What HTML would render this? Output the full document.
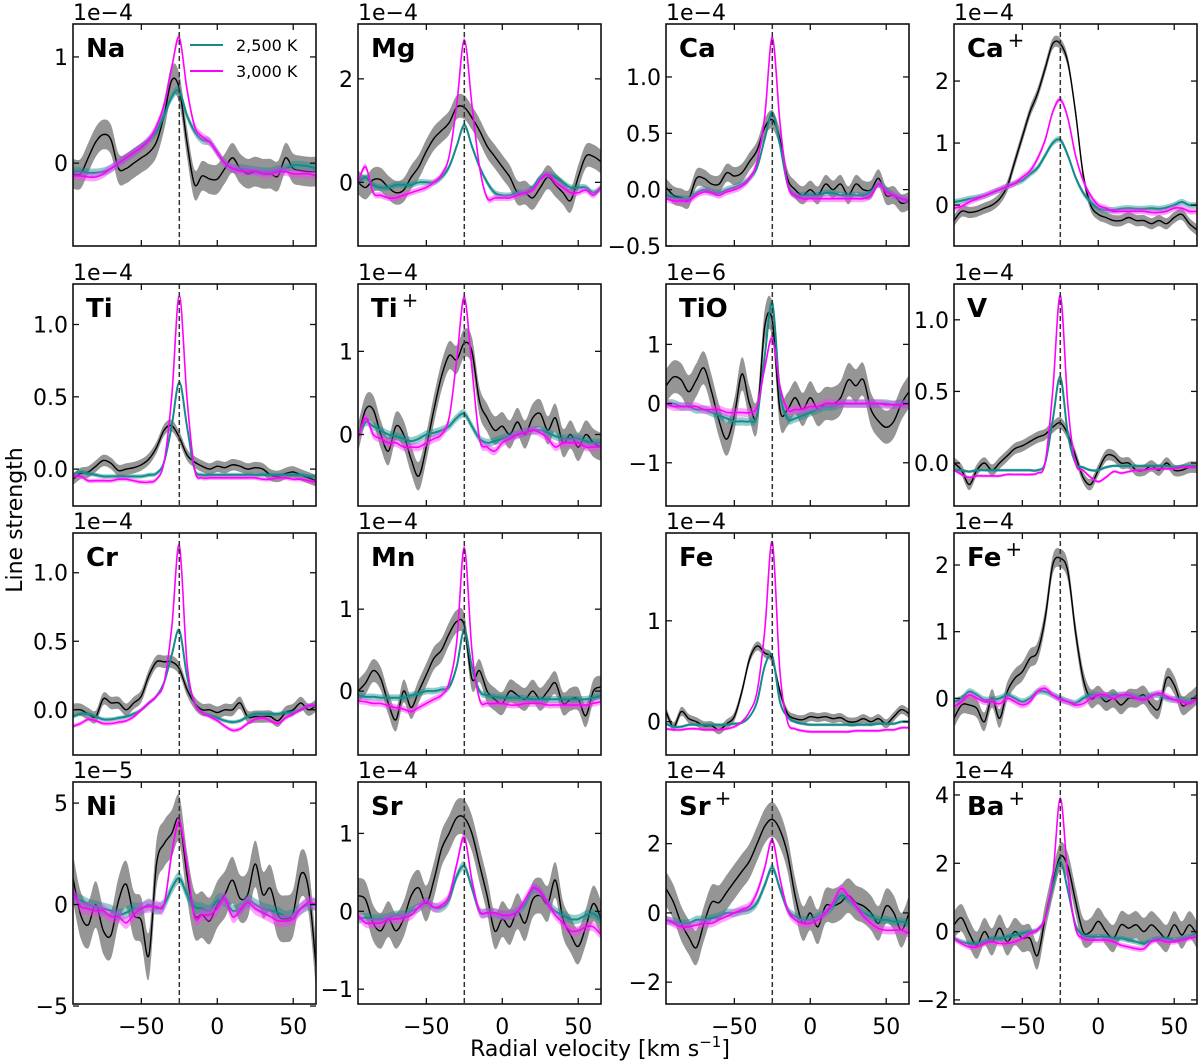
<!DOCTYPE html>
<html><head><meta charset="utf-8"><style>
html,body{margin:0;padding:0;background:#fff;}
svg{display:block;font-family:"DejaVu Sans","Liberation Sans",sans-serif;}
</style></head><body>
<svg id="fig" width="1200" height="1064" viewBox="0 0 1200 1064" xmlns="http://www.w3.org/2000/svg">
<text x="600" y="1056" font-size="22" text-anchor="middle">Radial velocity [km s<tspan font-size="15" dy="-9">−1</tspan><tspan dy="9">]</tspan></text>
<text x="22" y="520" font-size="22" text-anchor="middle" transform="rotate(-90 22 520)">Line strength</text>
</svg>
<script>
const velocities=[-95,-90,-85,-80,-75,-70,-65,-60,-55,-50,-45,-40,-35,-30,-25,-20,-15,-10,-5,0,5,10,15,20,25,30,35,40,45,50,55,60,65];
const xTicks=[-50,0,50];
const restVelocity=-25;
const obsNa=[-0.1,-0.1,0.05,0.2,0.27,0.22,-0.05,-0.05,0.0,0.05,0.1,0.2,0.45,0.78,0.7,0.2,-0.2,-0.12,-0.15,-0.15,-0.05,0.05,-0.05,-0.1,-0.08,-0.1,-0.1,-0.12,0.05,-0.05,-0.07,-0.08,-0.08];
const coolNa=[-0.08,-0.08,-0.09,-0.09,-0.08,-0.05,0.0,0.05,0.1,0.15,0.22,0.3,0.45,0.62,0.68,0.45,0.3,0.22,0.2,0.1,0.0,-0.05,-0.05,-0.06,-0.07,-0.08,-0.08,-0.06,-0.05,-0.02,-0.02,-0.03,-0.05];
const hotNa=[-0.12,-0.12,-0.13,-0.13,-0.1,-0.05,0.0,0.05,0.1,0.15,0.22,0.35,0.55,0.9,1.18,0.7,0.35,0.25,0.2,0.1,0.0,-0.05,-0.07,-0.08,-0.08,-0.1,-0.1,-0.08,-0.08,-0.1,-0.1,-0.1,-0.12];
const obsMg=[0,-0.1,0.05,0.05,-0.1,-0.2,-0.15,0.1,0.3,0.6,0.85,1.0,1.15,1.45,1.45,1.25,1.0,0.7,0.5,0.3,0.1,-0.2,-0.2,-0.3,-0.1,0.1,-0.05,-0.2,-0.35,0.1,0.5,0.5,0.4];
const coolMg=[0,0.1,-0.05,-0.1,-0.1,-0.05,-0.05,-0.05,0,0,0,0.1,0.3,0.7,1.1,0.7,0.3,0.0,-0.2,-0.25,-0.25,-0.2,-0.2,-0.1,0.1,0.15,0.1,0.0,-0.1,-0.1,-0.1,-0.2,-0.1];
const hotMg=[0.0,0.3,-0.2,-0.25,-0.3,-0.3,-0.25,-0.2,-0.15,-0.1,0.0,0.15,0.5,1.5,2.75,1.5,0.3,-0.3,-0.3,-0.3,-0.3,-0.25,-0.2,-0.15,0.05,0.15,0.0,-0.1,-0.2,-0.2,-0.15,-0.25,-0.1];
const obsCa=[0.02,-0.05,-0.07,-0.08,0.1,0.1,0.05,0.05,0.15,0.12,0.15,0.25,0.35,0.55,0.62,0.45,0.1,0.0,-0.05,0.0,-0.05,0.05,0.0,0.05,-0.05,0.05,0.0,0.0,0.1,-0.05,-0.05,-0.12,-0.1];
const coolCa=[-0.05,-0.07,-0.08,-0.08,-0.03,0.0,-0.02,-0.03,0.0,0.02,0.05,0.1,0.2,0.45,0.68,0.4,0.05,-0.05,-0.05,-0.05,-0.05,-0.03,-0.03,-0.05,-0.05,-0.05,-0.05,-0.02,0.05,0.0,-0.05,-0.08,-0.1];
const hotCa=[-0.08,-0.1,-0.1,-0.1,-0.05,-0.02,-0.03,-0.05,-0.02,0.0,0.03,0.1,0.25,0.65,1.35,0.6,0.05,-0.05,-0.08,-0.08,-0.08,-0.08,-0.08,-0.08,-0.08,-0.08,-0.08,-0.05,0.05,-0.02,-0.05,-0.08,-0.1];
const obsCaII=[-0.25,-0.1,-0.12,-0.1,-0.05,0.0,0.1,0.3,0.7,1.1,1.5,1.8,2.2,2.6,2.6,2.3,1.5,0.5,0.0,-0.15,-0.2,-0.25,-0.25,-0.2,-0.25,-0.25,-0.3,-0.25,-0.3,-0.2,-0.15,-0.3,-0.4];
const coolCaII=[0.05,0.07,0.1,0.12,0.15,0.2,0.25,0.3,0.35,0.4,0.5,0.6,0.8,1.0,1.05,0.8,0.45,0.2,0.05,-0.05,-0.08,-0.08,-0.06,-0.05,-0.06,-0.06,-0.05,-0.06,-0.04,0.0,0.05,0.0,0.0];
const hotCaII=[-0.05,-0.02,0.05,0.1,0.15,0.2,0.25,0.3,0.35,0.45,0.55,0.75,1.05,1.5,1.7,1.4,0.8,0.4,0.15,0.0,-0.05,-0.1,-0.1,-0.1,-0.1,-0.1,-0.12,-0.12,-0.1,-0.05,-0.05,-0.1,-0.1];
const obsTi=[-0.07,-0.03,-0.02,0.02,0.06,0.04,-0.01,0.0,0.01,0.03,0.07,0.15,0.27,0.3,0.22,0.1,0.05,0.02,0.0,0.02,0.01,0.03,0.02,0.0,0.01,0.0,-0.04,-0.05,-0.03,-0.02,-0.04,-0.06,-0.08];
const coolTi=[-0.04,-0.02,-0.03,-0.04,-0.05,-0.05,-0.05,-0.05,-0.05,-0.05,-0.04,-0.03,0.05,0.3,0.6,0.3,0.0,-0.04,-0.04,-0.04,-0.04,-0.04,-0.04,-0.04,-0.04,-0.04,-0.04,-0.04,-0.04,-0.04,-0.04,-0.05,-0.05];
const hotTi=[-0.05,-0.05,-0.08,-0.08,-0.08,-0.08,-0.07,-0.07,-0.08,-0.09,-0.09,-0.07,0.05,0.5,1.2,0.5,0.0,-0.06,-0.06,-0.06,-0.06,-0.06,-0.06,-0.06,-0.06,-0.07,-0.07,-0.06,-0.06,-0.07,-0.07,-0.08,-0.09];
const obsTiII=[-0.05,0.3,0.3,0.0,-0.2,0.1,0.0,-0.3,-0.5,-0.15,0.3,0.7,0.95,0.9,1.1,1.0,0.4,0.2,0.05,0.1,0.0,0.15,0.0,0.2,0.25,0.05,0.2,-0.1,0.0,-0.15,0.0,-0.1,-0.15];
const coolTiII=[0.0,0.15,0.1,0.05,0.0,-0.02,-0.05,-0.08,-0.05,0.0,0.02,0.05,0.1,0.2,0.25,0.1,-0.05,-0.1,-0.08,-0.05,-0.02,0.0,0.03,0.05,0.05,0.02,-0.02,-0.05,-0.05,-0.05,-0.08,-0.1,-0.1];
const hotTiII=[-0.05,0.2,0.0,-0.05,-0.1,-0.1,-0.15,-0.15,-0.15,-0.1,-0.05,0.0,0.2,0.9,1.65,0.8,-0.05,-0.15,-0.2,-0.1,-0.05,0.0,0.02,0.05,0.02,-0.05,-0.15,-0.1,-0.1,-0.1,-0.15,-0.15,-0.15];
const obsTiO=[0.3,0.45,0.4,0.2,0.4,0.6,0.2,-0.3,-0.6,-0.2,0.5,0.0,-0.2,1.3,1.4,-0.1,-0.1,0.1,-0.1,0.1,-0.1,0.0,0.0,0.1,0.4,0.3,0.4,-0.1,-0.3,-0.4,-0.3,0.0,0.2];
const coolTiO=[0.0,0.0,-0.05,-0.05,-0.1,-0.1,-0.15,-0.2,-0.25,-0.3,-0.3,-0.3,-0.2,0.8,1.7,0.2,-0.25,-0.25,-0.2,-0.15,-0.1,-0.05,-0.05,0.0,0.0,0.0,0.0,0.0,0.0,0.0,-0.02,0.0,0.0];
const hotTiO=[0.0,-0.05,-0.05,-0.05,-0.05,-0.1,-0.1,-0.1,-0.15,-0.15,-0.15,-0.15,-0.05,0.6,1.1,0.3,-0.1,-0.1,-0.1,-0.05,-0.05,0.0,0.0,0.0,0.0,0.0,0.0,0.0,0.0,-0.02,-0.02,-0.02,0.0];
const obsV=[0.0,-0.05,-0.15,-0.05,0.0,-0.05,0.0,0.05,0.1,0.12,0.15,0.18,0.2,0.25,0.28,0.2,0.05,-0.1,-0.15,-0.05,0.05,0.05,0.0,0.0,-0.05,-0.05,-0.02,-0.05,0.0,-0.05,-0.05,-0.03,-0.03];
const coolV=[-0.05,-0.05,-0.06,-0.05,-0.05,-0.05,-0.05,-0.05,-0.05,-0.05,-0.05,-0.05,0.0,0.3,0.6,0.2,0.0,-0.03,-0.05,-0.05,-0.03,-0.02,-0.02,-0.02,-0.02,-0.02,-0.02,-0.02,-0.02,-0.03,-0.02,-0.02,-0.02];
const hotV=[-0.05,-0.08,-0.1,-0.09,-0.09,-0.09,-0.09,-0.08,-0.08,-0.08,-0.08,-0.07,0.0,0.5,1.17,0.4,0.0,-0.05,-0.1,-0.13,-0.1,-0.06,-0.07,-0.06,-0.05,-0.05,-0.04,-0.04,-0.04,-0.04,-0.03,-0.03,-0.03];
const obsCr=[0.0,0.0,-0.03,-0.05,0.08,0.05,0.05,0.0,0.05,0.1,0.25,0.35,0.35,0.35,0.3,0.15,0.05,0.0,0.0,-0.02,0.0,0.0,0.05,-0.05,-0.05,-0.05,-0.05,-0.08,-0.02,0.0,0.05,0.0,0.03];
const coolCr=[-0.05,-0.03,-0.03,-0.05,-0.07,-0.07,-0.06,-0.05,-0.03,0.0,0.05,0.1,0.2,0.4,0.58,0.25,0.05,-0.02,-0.04,-0.06,-0.08,-0.09,-0.08,-0.05,-0.03,-0.03,-0.03,-0.03,-0.02,-0.02,0.0,0.03,0.03];
const hotCr=[-0.12,-0.1,-0.07,-0.08,-0.1,-0.1,-0.09,-0.08,-0.05,0.0,0.05,0.1,0.2,0.6,1.2,0.35,0.05,-0.02,-0.05,-0.08,-0.12,-0.15,-0.14,-0.1,-0.07,-0.06,-0.08,-0.1,-0.06,-0.03,0.0,0.03,0.03];
const obsMn=[0.0,0.1,0.25,0.15,-0.15,-0.35,0.0,-0.2,0.0,0.2,0.4,0.5,0.7,0.85,0.8,0.15,0.25,0.0,-0.1,-0.15,0.0,-0.05,-0.1,0.0,-0.1,0.0,0.1,-0.15,-0.1,-0.1,-0.3,0.0,0.05];
const coolMn=[-0.05,-0.07,-0.07,-0.08,-0.08,-0.08,-0.08,-0.05,-0.03,0.0,0.0,0.02,0.05,0.3,0.75,0.3,0.0,-0.05,-0.07,-0.08,-0.08,-0.08,-0.09,-0.1,-0.1,-0.1,-0.1,-0.1,-0.1,-0.1,-0.1,-0.08,-0.06];
const hotMn=[-0.12,-0.13,-0.15,-0.15,-0.18,-0.2,-0.22,-0.25,-0.2,-0.15,-0.1,-0.05,0.1,0.6,1.75,0.5,-0.1,-0.15,-0.15,-0.15,-0.17,-0.17,-0.15,-0.15,-0.15,-0.17,-0.17,-0.17,-0.17,-0.17,-0.17,-0.15,-0.13];
const obsFe=[0.1,-0.05,0.1,0.03,0.0,-0.04,-0.04,-0.08,-0.02,0.05,0.3,0.62,0.75,0.68,0.62,0.3,0.08,0.03,0.02,0.05,0.04,0.05,0.03,0.04,0.0,0.0,0.03,0.0,0.03,-0.02,0.05,0.12,0.08];
const coolFe=[-0.02,-0.05,-0.05,-0.03,-0.03,-0.03,-0.03,-0.03,-0.03,-0.02,-0.01,0.05,0.2,0.55,0.65,0.2,0.05,0.0,-0.02,-0.03,-0.03,-0.03,-0.03,-0.03,-0.03,-0.03,-0.03,-0.03,-0.02,-0.02,-0.02,0.0,0.0];
const hotFe=[-0.07,-0.08,-0.08,-0.07,-0.07,-0.08,-0.08,-0.08,-0.07,-0.05,0.0,0.1,0.3,0.9,1.78,0.5,0.0,-0.07,-0.09,-0.1,-0.1,-0.1,-0.1,-0.1,-0.1,-0.09,-0.09,-0.09,-0.09,-0.08,-0.08,-0.06,-0.06];
const obsFeII=[-0.3,-0.1,-0.1,-0.15,-0.35,0.0,-0.3,0.1,0.3,0.4,0.6,0.7,1.2,2.0,2.1,1.9,1.0,0.3,0.0,0.05,-0.05,0.0,-0.1,0.0,0.0,0.05,-0.1,-0.15,0.3,0.2,-0.1,-0.05,0.05];
const coolFeII=[-0.05,0.0,0.1,0.05,-0.02,-0.02,0.0,0.05,0.0,-0.05,0.0,0.1,0.1,0.05,0.0,-0.05,-0.07,0.0,0.05,0.05,0.02,0.05,0.05,0.05,0.02,0.0,0.05,0.05,0.0,-0.02,-0.02,-0.05,0.0];
const hotFeII=[-0.12,-0.05,0.05,0.0,-0.05,-0.05,-0.08,0.0,-0.05,-0.1,-0.05,0.1,0.15,0.05,-0.02,-0.05,-0.1,-0.08,0.0,0.05,0.05,0.0,0.05,0.05,0.0,-0.02,0.03,0.08,0.03,-0.02,-0.05,-0.08,0.0];
const obsNi=[1.3,-0.5,-1.0,0.0,-1.3,-1.5,0.2,1.0,-0.5,-0.8,-2.5,2.0,3.0,3.5,4.2,1.5,-0.5,-0.5,-0.8,0.0,0.5,1.2,0.3,0.5,2.0,0.5,0.8,-0.5,-0.7,-0.4,1.5,0.8,-3.0];
const coolNi=[0.3,0.2,0.0,-0.1,-0.2,-0.3,-0.5,-0.4,-0.2,-0.2,0.0,-0.2,0.0,0.8,1.3,0.5,-0.1,-0.2,-0.3,0.2,0.2,-0.3,-0.2,0.2,0.0,-0.2,-0.3,-0.4,-0.6,-0.5,-0.2,0.0,0.0];
const hotNi=[0.6,-0.1,-0.2,-0.3,-0.3,-0.6,-0.6,-0.9,-0.5,-0.2,-0.1,-0.1,0.0,2.5,4.1,2.0,-0.6,-0.5,-0.5,-0.2,0.3,-0.6,-0.3,0.1,-0.2,-0.4,-0.6,-0.8,-0.8,-0.7,-0.2,0.1,0.0];
const obsSr=[0.2,0.15,-0.15,-0.25,-0.1,-0.25,-0.1,0.2,0.3,0.1,0.4,0.8,1.0,1.2,1.2,1.0,0.6,0.2,-0.25,-0.1,-0.2,0.0,-0.15,0.15,0.2,0.1,0.4,-0.1,-0.3,-0.45,-0.2,0.1,-0.1];
const coolSr=[-0.1,-0.08,-0.1,-0.1,-0.08,-0.05,-0.05,0.0,0.05,0.12,0.05,0.05,0.15,0.45,0.58,0.3,0.0,-0.02,-0.02,-0.05,-0.05,0.0,0.1,0.28,0.25,0.1,0.0,-0.05,-0.1,-0.1,-0.05,-0.03,-0.12];
const hotSr=[-0.05,-0.15,-0.15,-0.15,-0.1,-0.1,-0.08,-0.05,0.05,0.12,0.05,0.08,0.2,0.6,0.95,0.4,0.0,-0.02,-0.02,-0.05,-0.05,0.0,0.15,0.3,0.25,0.1,-0.05,-0.15,-0.25,-0.25,-0.2,-0.2,-0.3];
const obsSrII=[0.7,0.3,-0.3,-0.7,-1.0,-0.3,0.3,0.3,0.6,0.9,1.2,1.5,2.0,2.5,2.7,2.4,1.7,0.5,-0.3,0.0,-0.4,0.2,0.2,0.3,0.5,0.3,0.2,0.0,-0.3,0.2,0.0,-0.5,0.0];
const coolSrII=[-0.2,-0.25,-0.3,-0.3,-0.2,-0.2,-0.15,-0.1,0.0,0.0,0.05,0.1,0.3,0.8,1.3,0.7,0.1,-0.1,-0.2,-0.2,-0.1,0.0,0.2,0.5,0.4,0.2,0.0,-0.1,-0.2,-0.2,-0.25,-0.25,-0.3];
const hotSrII=[-0.2,-0.3,-0.4,-0.4,-0.35,-0.3,-0.3,-0.2,-0.1,0.0,0.1,0.2,0.6,1.3,2.1,1.0,0.1,-0.2,-0.3,-0.3,-0.2,0.0,0.3,0.7,0.5,0.2,-0.1,-0.3,-0.45,-0.5,-0.5,-0.5,-0.6];
const obsBaII=[0.2,0.4,-0.05,-0.4,0.0,-0.3,0.1,-0.3,0.0,-0.2,-0.2,-0.7,0.4,1.4,2.2,1.9,0.9,0.0,0.0,0.3,0.0,-0.2,0.2,0.1,0.2,0.0,0.2,0.0,-0.2,0.2,-0.1,0.2,-0.1];
const coolBaII=[-0.2,-0.3,-0.35,-0.35,-0.3,-0.2,-0.2,-0.15,-0.1,-0.05,0.0,0.05,0.4,1.3,2.05,1.2,0.2,-0.1,-0.15,-0.15,-0.15,-0.2,-0.2,-0.25,-0.3,-0.35,-0.25,-0.2,-0.2,-0.25,-0.2,-0.15,-0.05];
const hotBaII=[-0.2,-0.35,-0.45,-0.45,-0.35,-0.3,-0.35,-0.35,-0.3,-0.2,-0.05,0.05,0.4,1.6,3.9,1.6,0.1,-0.2,-0.25,-0.25,-0.25,-0.3,-0.4,-0.45,-0.5,-0.5,-0.3,-0.25,-0.3,-0.3,-0.25,-0.2,-0.15];
const speciesNames=["Na","Mg","Ca","Ca+","Ti","Ti+","TiO","V","Cr","Mn","Fe","Fe+","Ni","Sr","Sr+","Ba+"];
const multipliers=["1e−4","1e−4","1e−4","1e−4","1e−4","1e−4","1e−6","1e−4","1e−4","1e−4","1e−4","1e−4","1e−5","1e−4","1e−4","1e−4"];
const obsErr=[0.14,0.23,0.08,0.09,0.04,0.17,0.28,0.04,0.045,0.14,0.045,0.14,1.15,0.23,0.5,0.4];
const modelErr=[0.04,0.06,0.03,0.05,0.015,0.05,0.07,0.01,0.015,0.04,0.015,0.05,0.3,0.06,0.12,0.08];
const yTickSets=[[0,1],[0,2],[-0.5,0,0.5,1.0],[0,1,2],[0,0.5,1.0],[0,1],[-1,0,1],[0,0.5,1.0],[0,0.5,1.0],[0,1],[0,1],[0,1,2],[-5,0,5],[-1,0,1],[-2,0,2],[-2,0,2,4]];
const yDecimals=[0,0,1,0,1,0,0,1,1,0,0,0,0,0,0,0];
const yLimits=[[-0.78,1.31],[-1.23,3.06],[-0.5,1.47],[-0.66,2.92],[-0.255,1.28],[-0.86,1.81],[-1.73,2.02],[-0.30,1.25],[-0.33,1.29],[-0.78,1.93],[-0.33,1.87],[-0.85,2.48],[-4.9,6.04],[-1.19,1.66],[-2.63,3.78],[-2.12,4.38]];
const obsSeries=[obsNa,obsMg,obsCa,obsCaII,obsTi,obsTiII,obsTiO,obsV,obsCr,obsMn,obsFe,obsFeII,obsNi,obsSr,obsSrII,obsBaII];
const coolSeries=[coolNa,coolMg,coolCa,coolCaII,coolTi,coolTiII,coolTiO,coolV,coolCr,coolMn,coolFe,coolFeII,coolNi,coolSr,coolSrII,coolBaII];
const hotSeries=[hotNa,hotMg,hotCa,hotCaII,hotTi,hotTiII,hotTiO,hotV,hotCr,hotMn,hotFe,hotFeII,hotNi,hotSr,hotSrII,hotBaII];

const NS="http://www.w3.org/2000/svg";
const svg=document.getElementById('fig');
const colL=[73,358,666,954], rowT=[24,284,533,782], PW=243, PH=222;
const XMIN=-95, XMAX=65;
function mk(tag,attrs,parent){const e=document.createElementNS(NS,tag);for(const k in attrs)e.setAttribute(k,attrs[k]);(parent||svg).appendChild(e);return e;}
function curve(pts){let d="M"+pts[0][0].toFixed(1)+","+pts[0][1].toFixed(1);
 for(let i=0;i<pts.length-1;i++){const p0=pts[Math.max(0,i-1)],p1=pts[i],p2=pts[i+1],p3=pts[Math.min(pts.length-1,i+2)];
  const c1x=p1[0]+(p2[0]-p0[0])/6,c1y=p1[1]+(p2[1]-p0[1])/6,c2x=p2[0]-(p3[0]-p1[0])/6,c2y=p2[1]-(p3[1]-p1[1])/6;
  d+="C"+c1x.toFixed(1)+","+c1y.toFixed(1)+" "+c2x.toFixed(1)+","+c2y.toFixed(1)+" "+p2[0].toFixed(1)+","+p2[1].toFixed(1);}
 return d;}
function fmt(v,dec){let s=v.toFixed(dec);return s.replace('-','−');}

for(let p=0;p<16;p++){
 const r=Math.floor(p/4),c=p%4,L=colL[c],T=rowT[r];
 const [y0,y1]=yLimits[p];
 const xs=v=>L+(v-XMIN)/(XMAX-XMIN)*PW;
 const ys=v=>T+PH-(v-y0)/(y1-y0)*PH;
 const slug=speciesNames[p].toLowerCase().replace('+','-ion');
 const g=mk('g',{});
 
 
 const cp=mk('clipPath',{id:'clip'+p},g);mk('rect',{x:L,y:T,width:PW,height:PH},cp);
 const plot=mk('g',{'clip-path':'url(#clip'+p+')'},g);
 const series=[[obsSeries[p],obsErr[p],'#8a8a8a',0.9,'#000',1.4,'observed'],[coolSeries[p],modelErr[p],'#148c8c',0.45,'#148c8c',2,'model-2500k'],[hotSeries[p],modelErr[p],'#ff33ff',0.45,'#ff00ff',1.6,'model-3000k']];
 for(const [vals,err,bc,bo,lc,lw,nm] of series){
  const up=velocities.map((v,i)=>[xs(v),ys(vals[i]+err)]);
  const lo=velocities.map((v,i)=>[xs(v),ys(vals[i]-err)]).reverse();
  const band=mk('path',{d:curve(up)+curve(lo).replace('M','L')+'Z',fill:bc,'fill-opacity':bo,stroke:'none'},plot);
  
  
  const line=mk('path',{d:curve(velocities.map((v,i)=>[xs(v),ys(vals[i])])),fill:'none',stroke:lc,'stroke-width':lw},plot);
  
  
 }
 const dash=mk('line',{x1:xs(restVelocity),x2:xs(restVelocity),y1:T,y2:T+PH,stroke:'#333','stroke-width':1.5,'stroke-dasharray':'5,3'},g);
 
 
 const frame=mk('rect',{x:L,y:T,width:PW,height:PH,fill:'none',stroke:'#111','stroke-width':1.6},g);
 
 
 for(const t of xTicks){const x=xs(t);
  mk('line',{x1:x,x2:x,y1:T+PH,y2:T+PH-6,stroke:'#111','stroke-width':1.3},g);
  mk('line',{x1:x,x2:x,y1:T,y2:T+6,stroke:'#111','stroke-width':1.3},g);
  if(r===3){const tl=mk('text',{x:x,y:T+PH+30,'font-size':22,'text-anchor':'middle'},g);tl.textContent=fmt(t,0);
   
   }
 }
 for(const t of yTickSets[p]){const y=ys(t);
  mk('line',{x1:L,x2:L+6,y1:y,y2:y,stroke:'#111','stroke-width':1.3},g);
  mk('line',{x1:L+PW,x2:L+PW-6,y1:y,y2:y,stroke:'#111','stroke-width':1.3},g);
  const tl=mk('text',{x:L-5,y:y+8,'font-size':22,'text-anchor':'end'},g);tl.textContent=fmt(t,yDecimals[p]);
  
  
 }
 const mt=mk('text',{x:L,y:T-4,'font-size':22},g);mt.textContent=multipliers[p];
 
 
 const name=speciesNames[p];
 const tt=mk('text',{x:L+13,y:T+33,'font-size':26,'font-weight':'bold'},g);
 
 
 if(name.endsWith('+')){tt.textContent=name.slice(0,-1);const sp=mk('tspan',{'font-weight':'normal','font-size':20,dx:4,dy:-10},tt);sp.textContent='+';}
 else tt.textContent=name;
}
const lg=mk('g',{});


const e1=mk('line',{x1:190,x2:223,y1:45,y2:45,stroke:'#148c8c','stroke-width':2},lg);
const t1=mk('text',{x:236,y:51,'font-size':16},lg);t1.textContent='2,500 K';


const e2=mk('line',{x1:190,x2:223,y1:71,y2:71,stroke:'#ff00ff','stroke-width':2},lg);
const t2=mk('text',{x:236,y:77,'font-size':16},lg);t2.textContent='3,000 K';


</script>
</body></html>
